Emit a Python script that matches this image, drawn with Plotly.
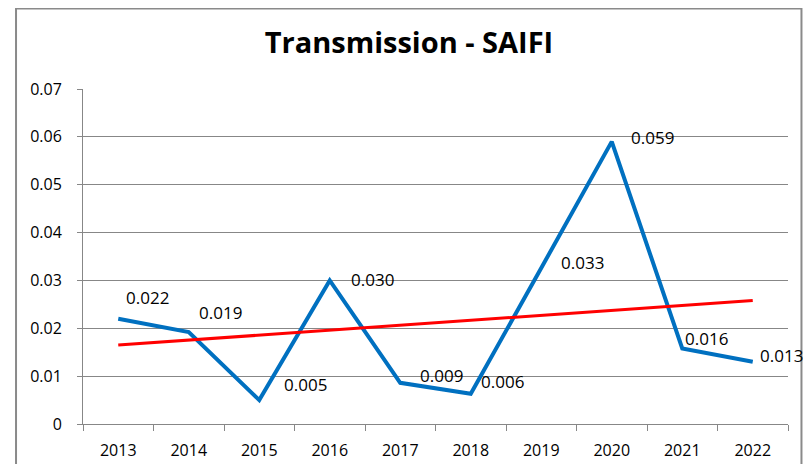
import plotly.graph_objects as go

years = ["2013", "2014", "2015", "2016", "2017", "2018", "2019", "2020", "2021", "2022"]
saifi = [0.022, 0.0192, 0.005, 0.030, 0.0086, 0.0063, 0.0326, 0.059, 0.0158, 0.013]
trend_years = ["2013", "2022"]
trend_values = [0.0165, 0.0258]
y_ticks = [0, 0.01, 0.02, 0.03, 0.04, 0.05, 0.06, 0.07]
y_tick_labels = ["0", "0.01", "0.02", "0.03", "0.04", "0.05", "0.06", "0.07"]

# label offsets (pixels) relative to each point
label_dx = [6, 8, 23, 19, 18, 8, 18, 17, 1, 5]
label_dy = [21, 20, 16, 1, 7, 12, 5, 4, 10, 6]

FONT = "Open Sans"
GRID = "#878787"

fig = go.Figure()
fig.add_trace(go.Scatter(
    x=years, y=saifi, mode="lines",
    line=dict(color="#0070C0", width=4),
    showlegend=False, hoverinfo="x+y",
))
fig.add_trace(go.Scatter(
    x=trend_years, y=trend_values, mode="lines",
    line=dict(color="#FF0000", width=3),
    showlegend=False, hoverinfo="skip",
))

for i, (y, dx, dy) in enumerate(zip(saifi, label_dx, label_dy)):
    fig.add_annotation(
        x=i, y=y, xref="x", yref="y", text=f"{y:.3f}",
        showarrow=False, xanchor="left", yanchor="middle",
        xshift=dx, yshift=dy,
        font=dict(family=FONT, size=17, color="#000000"),
    )

# outer chart border
fig.add_shape(
    type="rect", xref="paper", yref="paper",
    x0=-0.095, x1=1.0191, y0=-0.3, y1=1.2403,
    line=dict(color="#8a8a8a", width=2), fillcolor="rgba(0,0,0,0)",
    layer="below",
)

fig.update_layout(
    width=795, height=456,
    margin=dict(l=75, r=15, t=81, b=40, autoexpand=False),
    paper_bgcolor="white", plot_bgcolor="white",
    title=dict(
        text="<b>Transmission - SAIFI</b>",
        x=401 / 795, xref="container", xanchor="center",
        y=1 - 35 / 456, yref="container", yanchor="middle",
        font=dict(family=FONT, size=29, color="#000000"),
    ),
    xaxis=dict(
        type="category", range=[-0.5, 9.5], automargin=False,
        tickson="boundaries", ticks="outside", ticklen=6, tickcolor=GRID,
        showline=True, linecolor=GRID, linewidth=1,
        showgrid=False, zeroline=False,
        tickfont=dict(family=FONT, size=16, color="#000000"),
        ticklabelstandoff=12,
        fixedrange=True,
    ),
    yaxis=dict(
        range=[0, 0.07], tickvals=y_ticks, ticktext=y_tick_labels,
        automargin=False,
        ticks="outside", ticklen=5, tickcolor=GRID,
        showline=True, linecolor=GRID, linewidth=1,
        showgrid=True, gridcolor=GRID, gridwidth=1,
        zeroline=False,
        tickfont=dict(family=FONT, size=16, color="#000000"),
        ticklabelstandoff=12,
        fixedrange=True,
    ),
)

fig.write_html("out.html")
